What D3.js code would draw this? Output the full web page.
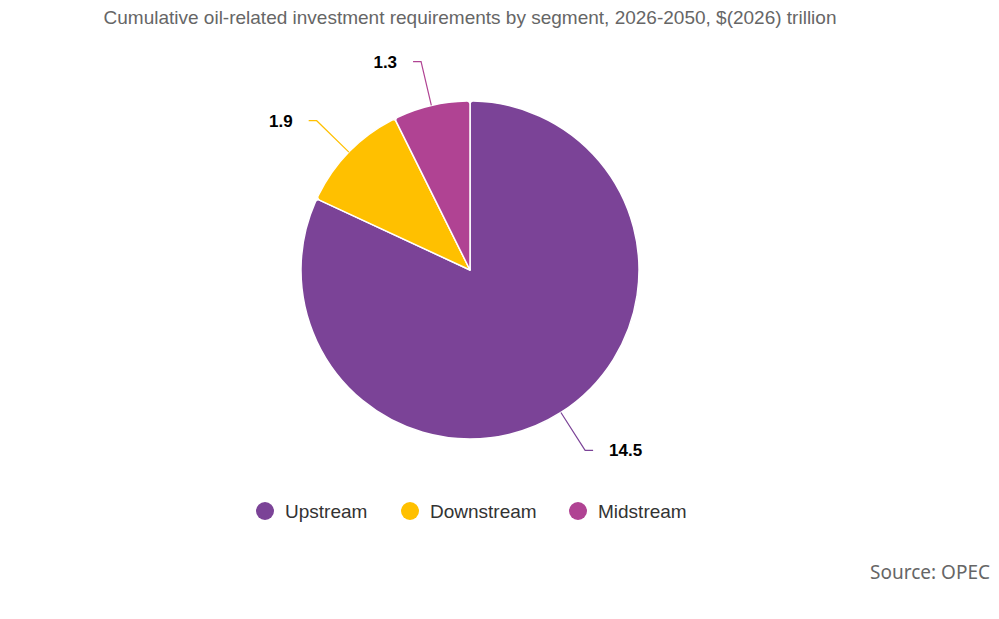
<!DOCTYPE html>
<html lang="en">
<head>
    <meta charset="utf-8">
    <title>Cumulative oil-related investment requirements</title>
    <script src="https://d3js.org/d3.v7.min.js"></script>
    <style type="text/css">
    body { margin: 0; background: #fff; }
    svg text { font-family: "Liberation Sans", Arial, sans-serif; }
    .title { fill: #666; font-size: 19px; text-anchor: middle; }
    .label { fill: #000; font-size: 17px; font-weight: bold; }
    .legend text { fill: #333; font-size: 19px; }
    svg text.source { fill: #666; font-size: 19px; text-anchor: end; font-family: "Noto Sans", sans-serif; }
    </style>
</head>
<body>
<script>
// chart values
var segments = ["Upstream", "Downstream", "Midstream"];
var values = [14.5, 1.9, 1.3];
var colors = ["#7b4397", "#ffc000", "#b04393"];

var width = 999,
    height = 619,
    cx = 470,
    cy = 270,
    radius = 169;

var svg = d3.select("body")
    .append("svg")
    .attr("width", width)
    .attr("height", height);

svg.append("text")
    .attr("class", "title")
    .attr("x", 470)
    .attr("y", 24)
    .text("Cumulative oil-related investment requirements by segment, 2026-2050, $(2026) trillion");

var data = segments.map(function (s, i) { return { name: s, value: values[i], color: colors[i] }; });

var pie = d3.pie().sort(null).value(function (d) { return d.value; });
var arcs = pie(data);

var arc = d3.arc().innerRadius(0).outerRadius(radius).cornerRadius(3);
// points for the label connectors
var edge = d3.arc().innerRadius(radius).outerRadius(radius);
var elbow = d3.arc().innerRadius(214).outerRadius(214);

var g = svg.append("g").attr("transform", "translate(" + cx + "," + cy + ")");

g.selectAll("path.slice")
    .data(arcs)
    .enter()
    .append("path")
    .attr("class", "slice")
    .attr("d", arc)
    .attr("fill", function (d) { return d.data.color; })
    .attr("stroke", "#fff")
    .attr("stroke-width", 1.5)
    .attr("stroke-linejoin", "round");

var lab = g.selectAll("g.lab")
    .data(arcs)
    .enter()
    .append("g")
    .attr("class", "lab");

lab.append("path")
    .attr("fill", "none")
    .attr("stroke", function (d) { return d.data.color; })
    .attr("stroke-width", 1.2)
    .attr("d", function (d) {
        var a = (d.startAngle + d.endAngle) / 2;
        var p0 = edge.centroid(d), p1 = elbow.centroid(d);
        var side = Math.sin(a) < 0 ? -1 : 1;
        return "M" + p0 + "L" + p1 + "L" + [p1[0] + side * 8, p1[1]];
    });

lab.append("text")
    .attr("class", "label")
    .attr("dy", ".35em")
    .attr("x", function (d) {
        var a = (d.startAngle + d.endAngle) / 2;
        var side = Math.sin(a) < 0 ? -1 : 1;
        return elbow.centroid(d)[0] + side * 24;
    })
    .attr("y", function (d) { return elbow.centroid(d)[1]; })
    .attr("text-anchor", function (d) {
        return Math.sin((d.startAngle + d.endAngle) / 2) < 0 ? "end" : "start";
    })
    .text(function (d) { return d.data.value; });

// legend
var legendX = [265, 410, 578];
var leg = svg.append("g")
    .attr("class", "legend")
    .selectAll("g")
    .data(data)
    .enter()
    .append("g")
    .attr("transform", function (d, i) { return "translate(" + legendX[i] + ",511)"; });

leg.append("circle")
    .attr("r", 9)
    .attr("fill", function (d) { return d.color; });

leg.append("text")
    .attr("x", 20)
    .attr("dy", ".35em")
    .text(function (d) { return d.name; });

svg.append("text")
    .attr("class", "source")
    .attr("x", 990)
    .attr("y", 579)
    .text("Source: OPEC");
</script>
</body>
</html>
